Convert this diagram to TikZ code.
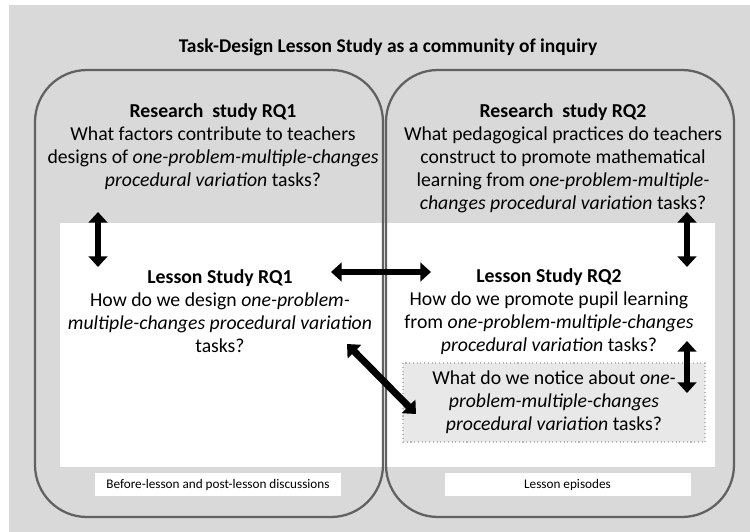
\documentclass[tikz,border=0pt]{standalone}
\usepackage{fontspec}
\setmainfont{Carlito}
\usetikzlibrary{arrows.meta}
\begin{document}
\begin{tikzpicture}[x=0.75pt,y=-0.75pt,line join=round,
  body/.style={align=center,font=\fontsize{14.8}{17.25}\selectfont},
  frame/.style={draw=black!62,line width=1.7pt,rounded corners=39pt},
  tag/.style={fill=white,minimum width=184.5pt,minimum height=17.25pt,
    inner sep=0pt,font=\fontsize{9.9}{11}\selectfont},
  dblarrow/.style={{Triangle[width=14pt,length=8pt]}-{Triangle[width=14pt,length=8pt]},
    line width=5.2pt}]
  % 画布与灰色底
  \useasboundingbox (0,0) rectangle (750,532);
  \fill[black!15] (9,5) rectangle (750,532);
  % 白色横带
  \fill[white] (60,223) rectangle (715,467);
  % 两个圆角框
  \draw[frame] (35,70) rectangle (383,517);
  \draw[frame] (386,70) rectangle (734,517);

  % 标题
  \node[font=\fontsize{14.6}{17}\selectfont\bfseries] (title) at (388,47)
    {Task-Design Lesson Study as a community of inquiry};

  % 研究问题
  \node[body] (rs1) at (213,147) {\textbf{Research\ \ study RQ1}\\
    What factors contribute to teachers\\
    designs of \textit{one-problem-multiple-changes}\\
    \textit{procedural variation} tasks?};
  \node[body] (rs2) at (563,158.5) {\textbf{Research\ \ study RQ2}\\
    What pedagogical practices do teachers\\
    construct to promote mathematical\\
    learning from \textit{one-problem-multiple-}\\
    \textit{changes procedural variation} tasks?};

  % 课例研究问题
  \node[body] (ls1) at (220,311.5) {\textbf{Lesson Study RQ1}\\
    How do we design \textit{one-problem-}\\
    \textit{multiple-changes procedural variation}\\
    tasks?};
  \node[body] (ls2) at (549,312) {\textbf{Lesson Study RQ2}\\
    How do we promote pupil learning\\
    from \textit{one-problem-multiple-changes}\\
    \textit{procedural variation} tasks?};
  \node[body,fill=black!9,draw=black!28,dotted,thick,
    minimum width=226.5pt,minimum height=59.25pt] (notice) at (554,402.5)
    {What do we notice about \textit{one-}\\
    \textit{problem-multiple-changes}\\
    \textit{procedural variation} tasks?};

  % 底部标签
  \node[tag] (pre) at (218,484.5) {Before-lesson and post-lesson discussions};
  \node[tag] (epi) at (567.5,484.5) {Lesson episodes};

  % 箭头端点
  \coordinate (a1) at (98,212);
  \coordinate (a2) at (98,267);
  \coordinate (b1) at (687,212);
  \coordinate (b2) at (687,267);
  \coordinate (c1) at (331,272);
  \coordinate (c2) at (431,272);
  \coordinate (d1) at (687,341);
  \coordinate (d2) at (687,393);
  \coordinate (e1) at (347,344);
  \coordinate (e2) at (416,414);

  % 双向箭头
  \draw[dblarrow] (a1) -- (a2);
  \draw[dblarrow] (b1) -- (b2);
  \draw[dblarrow] (c1) -- (c2);
  \draw[dblarrow] (d1) -- (d2);
  \draw[dblarrow] (e1) -- (e2);
\end{tikzpicture}
\end{document}
